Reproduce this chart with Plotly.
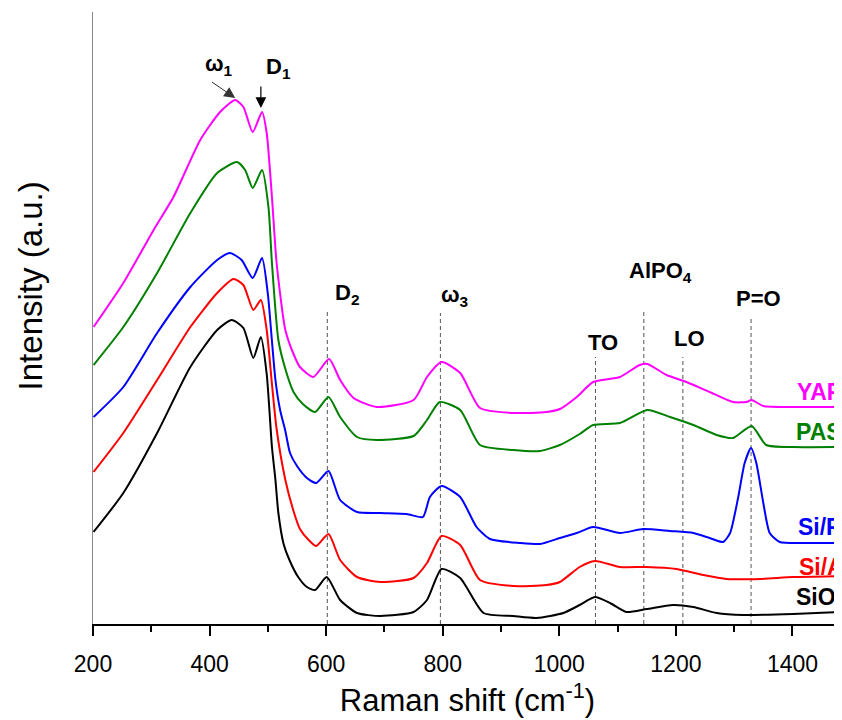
import plotly.graph_objects as go

# ---- data (Raman shift in cm^-1, intensity in arbitrary stacked units) ----
sio2_x = [201, 252, 310, 367, 413, 438, 458, 475, 488, 498, 507, 513, 518, 527, 537, 552, 567, 581, 601,
          624, 653, 693, 750, 773, 798, 830, 870, 921, 961, 1007, 1035, 1061, 1087, 1115, 1150, 1195,
          1230, 1270, 1315, 1401, 1485]
sio2_y = [92, 131, 191, 257, 294, 304, 296, 266, 287, 250, 177, 144, 111, 80, 64, 47, 37, 34, 47,
          24, 11, 8, 12, 24, 55, 46, 11, 8, 6, 11, 19, 27, 21, 12, 15, 19,
          17, 11, 9, 10, 12]

sia_x = [201, 252, 310, 367, 413, 441, 458, 475, 488, 498, 507, 515, 530, 544, 555, 570, 583, 604,
         624, 653, 693, 750, 773, 798, 830, 864, 921, 978, 1001, 1035, 1061, 1104, 1150, 1201, 1247,
         1287, 1344, 1401, 1485]
sia_y = [152, 191, 244, 297, 331, 345, 339, 314, 324, 294, 240, 195, 144, 113, 95, 84, 78, 90,
         64, 47, 42, 46, 61, 88, 79, 44, 38, 39, 42, 57, 63, 57, 57, 55, 49,
         45, 45, 47, 48]

sip_x = [201, 252, 310, 367, 413, 435, 455, 474, 490, 500, 506, 513, 521, 530, 538, 550, 567, 583, 604,
         624, 653, 693, 738, 766, 778, 798, 830, 858, 881, 933, 967, 1001, 1030, 1058, 1104, 1144,
         1190, 1230, 1258, 1281, 1293, 1307, 1318, 1329, 1338, 1350, 1361, 1378, 1430, 1485]
sip_y = [207, 237, 291, 337, 364, 371, 364, 346, 366, 330, 290, 244, 214, 193, 171, 158, 146, 141, 153,
         124, 112, 111, 110, 107, 127, 138, 127, 97, 85, 81, 80, 86, 91, 97, 91, 95,
         93, 91, 86, 82, 91, 127, 161, 176, 161, 121, 91, 82, 81, 81]

pas_x = [201, 252, 310, 367, 413, 447, 461, 474, 490, 501, 507, 518, 530, 544, 560, 581, 604,
         624, 653, 687, 750, 773, 795, 830, 864, 921, 967, 1001, 1035, 1058, 1104, 1151, 1190,
         1230, 1270, 1298, 1330, 1355, 1401, 1485]
pas_y = [259, 297, 351, 411, 451, 462, 454, 436, 454, 417, 361, 284, 255, 232, 220, 212, 227,
         207, 187, 184, 188, 204, 222, 214, 179, 174, 173, 179, 190, 199, 201, 214, 207,
         199, 189, 186, 198, 179, 177, 177]

yap_x = [201, 252, 304, 338, 384, 418, 444, 458, 474, 490, 498, 507, 515, 530, 544, 555, 578, 605,
         624, 647, 687, 750, 773, 798, 830, 864, 921, 978, 1001, 1030, 1058, 1104, 1138, 1151,
         1184, 1218, 1258, 1298, 1321, 1330, 1350, 1401, 1485]
yap_y = [297, 341, 394, 427, 484, 512, 524, 517, 492, 512, 491, 427, 361, 294, 270, 257, 247, 265,
         244, 226, 217, 224, 247, 262, 251, 216, 211, 212, 215, 227, 242, 247, 259, 260,
         249, 242, 232, 222, 222, 224, 218, 217, 217]

series_names = ["SiO<sub>2</sub>", "Si/A", "Si/P", "PAS", "YAP"]
series_colors = ["#000000", "#FF0000", "#0000FF", "#008000", "#FF00FF"]
series_x = [sio2_x, sia_x, sip_x, pas_x, yap_x]
series_y = [sio2_y, sia_y, sip_y, pas_y, yap_y]
label_x = [1402, 1407, 1406, 1402, 1404]
label_y = [26, 57, 97, 192, 232]

# peak reference lines (position, top of dashed line)
ref_x = [602, 796, 1062, 1145, 1212, 1329]
ref_top = [312, 311, 267, 312, 267, 308]

peak_labels = ["ω<sub>1</sub>", "D<sub>1</sub>", "D<sub>2</sub>", "ω<sub>3</sub>", "TO",
               "AlPO<sub>4</sub>", "LO", "P=O"]
peak_lx = [416, 518, 635, 821, 1075, 1173, 1224, 1342]
peak_ly = [559, 556, 330, 328, 282, 352, 286, 326]

x_ticks = [200, 400, 600, 800, 1000, 1200, 1400]

FONT = "Arial, Liberation Sans, sans-serif"

fig = go.Figure()

for i in range(len(ref_x)):
    fig.add_shape(type="line", xref="x", yref="y", x0=ref_x[i], x1=ref_x[i], y0=0, y1=ref_top[i],
                  line=dict(color="#555555", width=1, dash="4px,3px"), layer="below")

for xs, ys, c in zip(series_x, series_y, series_colors):
    fig.add_trace(go.Scatter(x=xs, y=ys, mode="lines", line=dict(color=c, width=2, shape="spline",
                                                                    smoothing=0.6),
                             showlegend=False, hoverinfo="skip", cliponaxis=True))

for name, c, lx, ly in zip(series_names, series_colors, label_x, label_y):
    fig.add_annotation(x=lx, y=ly, text="<b>%s</b>" % name, showarrow=False, xanchor="left",
                       yanchor="middle", font=dict(family=FONT, size=23, color=c))

for t, lx, ly in zip(peak_labels, peak_lx, peak_ly):
    fig.add_annotation(x=lx, y=ly, text="<b>%s</b>" % t, showarrow=False, xanchor="center",
                       yanchor="middle", font=dict(family=FONT, size=22, color="black"))

# arrows for omega1 and D1
fig.add_annotation(x=444, y=526, ax=401.5, ay=543, xref="x", yref="y", axref="x", ayref="y",
                   text="", showarrow=True, arrowhead=2, arrowsize=2.2, arrowwidth=1,
                   arrowcolor="#333333")
fig.add_annotation(x=488, y=516, ax=488, ay=539, xref="x", yref="y", axref="x", ayref="y",
                   text="", showarrow=True, arrowhead=2, arrowsize=1.8, arrowwidth=1.2,
                   arrowcolor="black")

# y-axis title
fig.add_annotation(x=-0.083, y=0.553, xref="paper", yref="paper", text="Intensity (a.u.)",
                   textangle=-90, showarrow=False, xanchor="center", yanchor="middle",
                   font=dict(family=FONT, size=33, color="black"))

fig.update_xaxes(range=[200, 1485], tickvals=x_ticks, ticktext=[str(v) for v in x_ticks],
                 showline=True, linecolor="black", linewidth=2, ticks="outside", ticklen=10,
                 tickwidth=2, tickcolor="black", showgrid=False, zeroline=False,
                 ticklabelstandoff=8,
                 minor=dict(dtick=100, tick0=200, ticks="outside", ticklen=6, tickwidth=2,
                            tickcolor="black", showgrid=False),
                 tickfont=dict(family=FONT, size=23, color="black"),
                 title=dict(text="Raman shift (cm<sup>-1</sup>)", standoff=14,
                            font=dict(family=FONT, size=31, color="black")))
fig.update_yaxes(range=[0, 612], showline=True, linecolor="#888888", linewidth=1, ticks="",
                 showticklabels=False, showgrid=False, zeroline=False)

# page body has an 8px default margin, so the figure is offset by (8, 8)
fig.update_layout(width=834, height=712, margin=dict(l=85, r=0, t=4, b=96, autoexpand=False),
                  plot_bgcolor="white", paper_bgcolor="white")

fig.write_html("out.html")
